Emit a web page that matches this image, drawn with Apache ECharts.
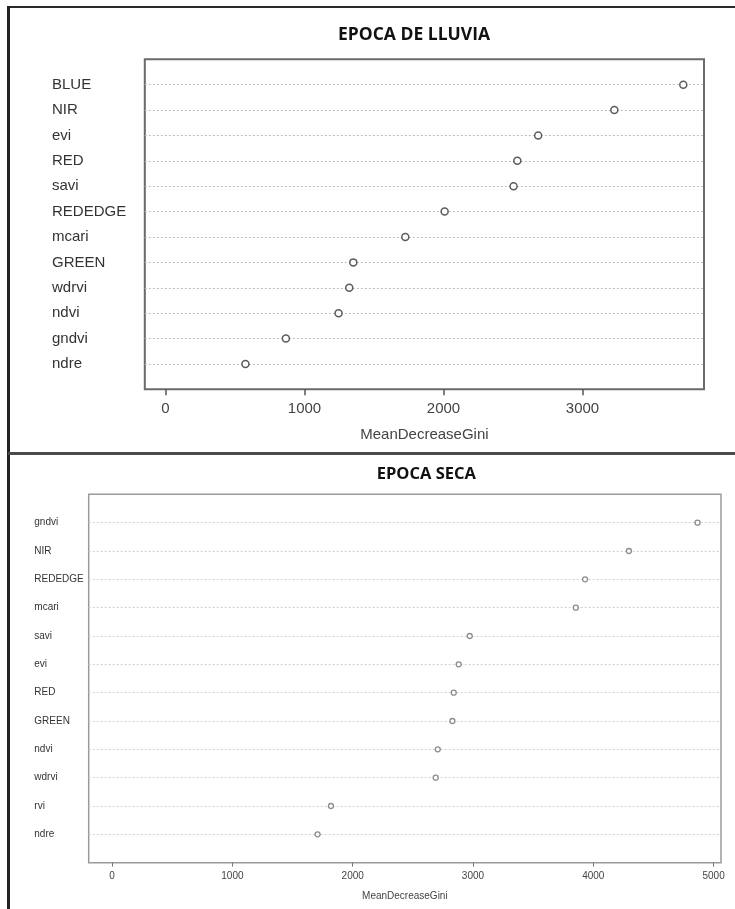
<!DOCTYPE html>
<html>
<head>
<meta charset="utf-8">
<script src="https://cdn.jsdelivr.net/npm/echarts@6/dist/echarts.min.js"></script>
<style>
  html, body { margin: 0; padding: 0; background: #ffffff; }
  #chart { width: 735px; height: 909px; }
</style>
</head>
<body>
<div id="chart"></div>
<script>
// Variable importance (MeanDecreaseGini), rainy season — listed top to bottom
const rainyVars = ['BLUE', 'NIR', 'evi', 'RED', 'savi', 'REDEDGE', 'mcari', 'GREEN', 'wdrvi', 'ndvi', 'gndvi', 'ndre'];
const rainyGini = [3725, 3229, 2681, 2531, 2504, 2008, 1725, 1351, 1322, 1245, 866, 575];
const rainyTicks = [0, 1000, 2000, 3000];

// Variable importance (MeanDecreaseGini), dry season — listed top to bottom
const dryVars = ['gndvi', 'NIR', 'REDEDGE', 'mcari', 'savi', 'evi', 'RED', 'GREEN', 'ndvi', 'wdrvi', 'rvi', 'ndre'];
const dryGini = [4867, 4296, 3932, 3855, 2973, 2881, 2840, 2829, 2707, 2690, 1819, 1708];
const dryTicks = [0, 1000, 2000, 3000, 4000, 5000];

const axisTitle = 'MeanDecreaseGini';
const rainyTitle = 'EPOCA DE LLUVIA';
const dryTitle = 'EPOCA SECA';

// dotchart-style range: from 0 to the maximum, padded by 4% on both sides
function padRange(values) {
  const hi = Math.max.apply(null, values);
  return { min: -0.04 * hi, max: 1.04 * hi };
}

// rows counted from the bottom: 1..n, with one empty row of padding at each end
function rowPoints(names, values) {
  const n = names.length;
  return values.map((v, i) => ({ name: names[i], value: [v, n - i] }));
}

function rowLabel(names) {
  const n = names.length;
  return v => (v >= 1 && v <= n) ? names[n - v] : '';
}

const plainNumber = v => String(Math.round(v));

const FONT = '"Liberation Sans", Arial, sans-serif';
const rainyRange = padRange(rainyGini);
const dryRange = padRange(dryGini);

const chart = echarts.init(document.getElementById('chart'), null, { renderer: 'canvas' });

chart.setOption({
  backgroundColor: '#ffffff',
  animation: false,
  grid: [
    { left: 144.8, top: 59.3, width: 559.2, height: 330, show: true,
      borderColor: '#6a6a6a', borderWidth: 2, backgroundColor: 'transparent' },
    { left: 88.7, top: 494.3, width: 632.3, height: 368.4, show: true,
      borderColor: '#9a9a9a', borderWidth: 1.5, backgroundColor: 'transparent' }
  ],
  xAxis: [
    {
      gridIndex: 0, type: 'value', min: rainyRange.min, max: rainyRange.max,
      axisLine: { show: false },
      splitLine: { show: false },
      axisTick: { show: true, length: 6, customValues: rainyTicks,
        lineStyle: { color: '#555555', width: 1.5 } },
      axisLabel: { customValues: rainyTicks, formatter: plainNumber, margin: 12,
        fontSize: 15, fontFamily: FONT, color: '#444444' },
      name: axisTitle, nameLocation: 'middle', nameGap: 38,
      nameTextStyle: { fontSize: 15, fontFamily: FONT, color: '#444444' }
    },
    {
      gridIndex: 1, type: 'value', min: dryRange.min, max: dryRange.max,
      axisLine: { show: false },
      splitLine: { show: false },
      axisTick: { show: true, length: 4, customValues: dryTicks,
        lineStyle: { color: '#777777', width: 1 } },
      axisLabel: { customValues: dryTicks, formatter: plainNumber, margin: 9,
        fontSize: 10, fontFamily: FONT, color: '#444444' },
      name: axisTitle, nameLocation: 'middle', nameGap: 29,
      nameTextStyle: { fontSize: 10, fontFamily: FONT, color: '#444444' }
    }
  ],
  yAxis: [
    {
      gridIndex: 0, type: 'value', min: 0, max: rainyVars.length + 1, interval: 1,
      axisLine: { show: false }, axisTick: { show: false },
      axisLabel: { formatter: rowLabel(rainyVars), align: 'left', margin: 92.8,
        fontSize: 15, fontFamily: FONT, color: '#333333' },
      splitLine: { show: true, showMinLine: false, showMaxLine: false,
        lineStyle: { type: [2, 2], color: '#bdbdbd', width: 1 } }
    },
    {
      gridIndex: 1, type: 'value', min: 0, max: dryVars.length + 1, interval: 1,
      axisLine: { show: false }, axisTick: { show: false },
      axisLabel: { formatter: rowLabel(dryVars), align: 'left', margin: 54.4,
        fontSize: 10, fontFamily: FONT, color: '#333333' },
      splitLine: { show: true, showMinLine: false, showMaxLine: false,
        lineStyle: { type: [2, 2], color: '#d0d0d0', width: 1 } }
    }
  ],
  series: [
    {
      type: 'scatter', xAxisIndex: 0, yAxisIndex: 0,
      data: rowPoints(rainyVars, rainyGini),
      symbol: 'circle', symbolSize: 7,
      itemStyle: { color: '#ffffff', borderColor: '#333333', borderWidth: 1.5 },
      z: 5
    },
    {
      type: 'scatter', xAxisIndex: 1, yAxisIndex: 1,
      data: rowPoints(dryVars, dryGini),
      symbol: 'circle', symbolSize: 5,
      itemStyle: { color: '#ffffff', borderColor: '#707070', borderWidth: 1.3 },
      z: 5
    }
  ],
  graphic: [
    // panel frames
    { type: 'line', shape: { x1: 8.5, y1: 7, x2: 735, y2: 7 },
      style: { stroke: '#2a2a2a', lineWidth: 2 } },
    { type: 'line', shape: { x1: 8.5, y1: 6, x2: 8.5, y2: 909 },
      style: { stroke: '#222222', lineWidth: 3 } },
    { type: 'line', shape: { x1: 8, y1: 453.5, x2: 735, y2: 453.5 },
      style: { stroke: '#4a4a4a', lineWidth: 3 } },
    // panel titles
    { type: 'text', x: 414, y: 35.2,
      style: { text: rainyTitle, align: 'center', verticalAlign: 'middle',
        font: 'bold 17.5px "Open Sans", sans-serif', fill: '#111111' } },
    { type: 'text', x: 426.3, y: 474.5,
      style: { text: dryTitle, align: 'center', verticalAlign: 'middle',
        font: 'bold 16.5px "Open Sans", sans-serif', fill: '#111111' } }
  ]
});
</script>
</body>
</html>
